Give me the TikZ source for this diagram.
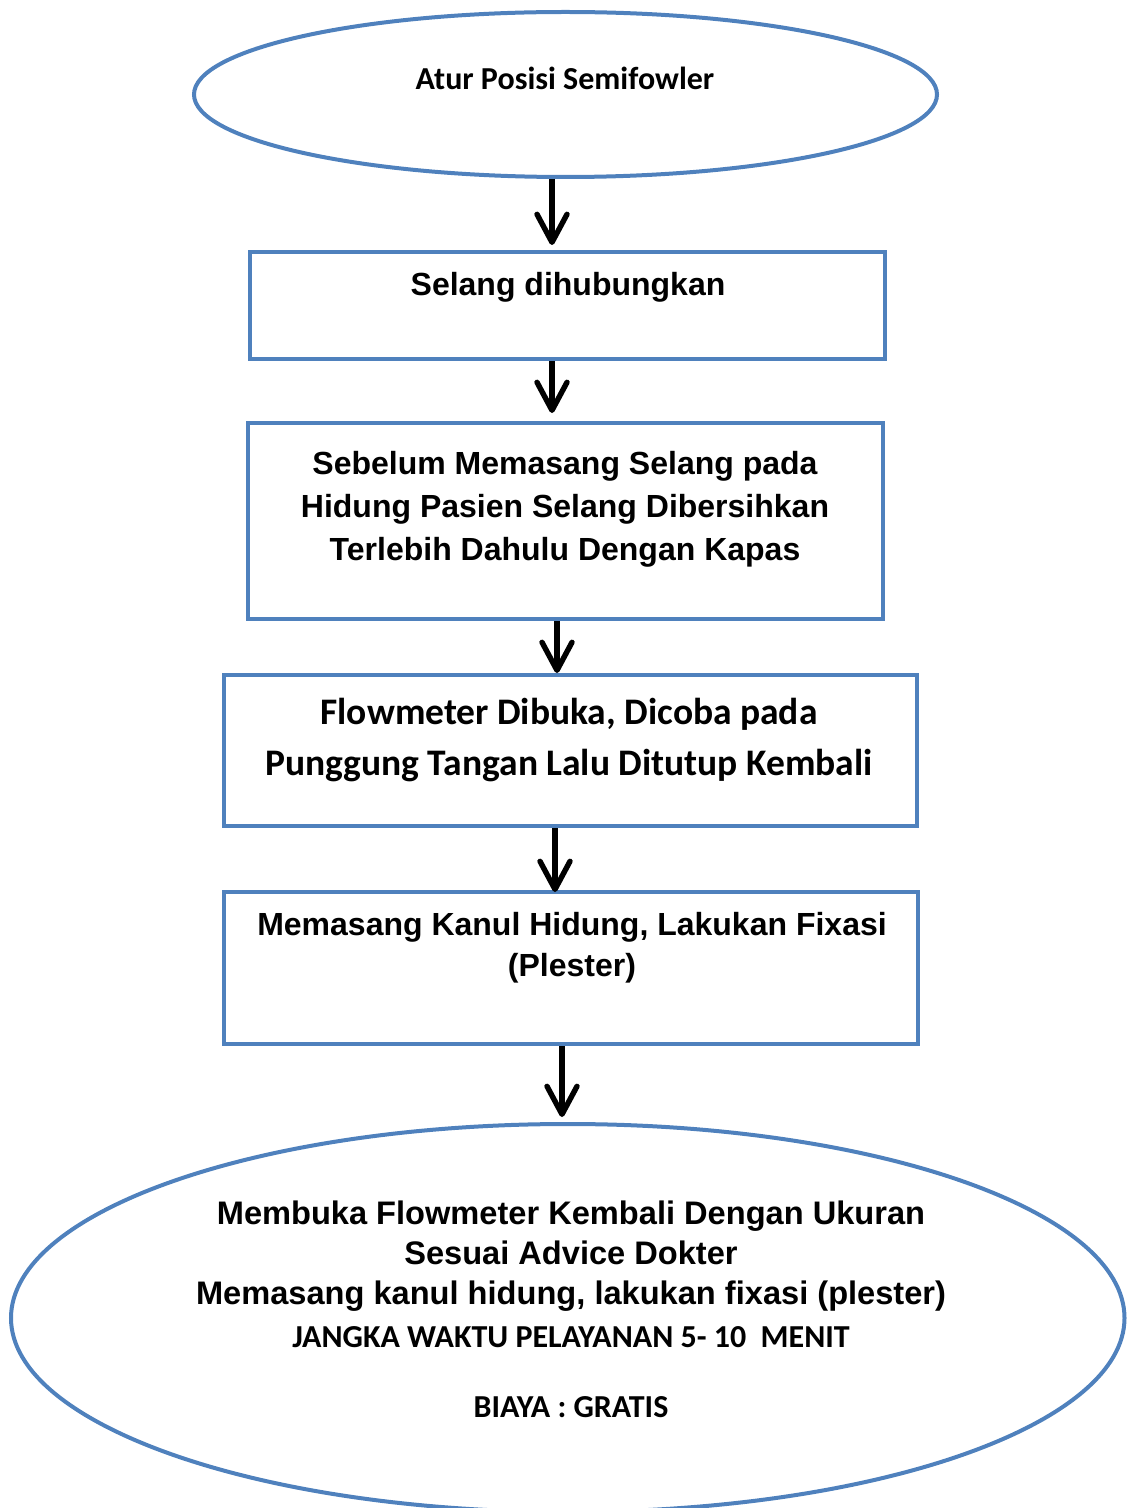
\documentclass[tikz,border=0pt]{standalone}
\usepackage{fontspec}
\setmainfont{Liberation Sans}
\newfontfamily\calibri{Carlito}
\usetikzlibrary{shapes.geometric,arrows.meta,positioning}
\definecolor{stepblue}{HTML}{4F81BD}
\tikzset{
  stepbox/.style={draw=stepblue, line width=2pt, rectangle, inner sep=0pt},
  stepoval/.style={draw=stepblue, line width=2pt, ellipse, inner sep=0pt},
  steptext/.style={align=center, inner sep=0pt, font=\bfseries\fontsize{16}{21.5}\selectfont},
  calibritext/.style={align=center, inner sep=0pt, font=\calibri\bfseries\fontsize{16}{20}\selectfont},
  flowarrow/.style={line width=2.7pt, -{Straight Barb[length=14pt,width=15pt,round]}},
}
\begin{document}
\begin{tikzpicture}[x=0.5pt,y=-0.5pt]
    \useasboundingbox (0,0) rectangle (1127,1508);
    % Shapes of the flow
    \node[stepoval, minimum width=371.5pt, minimum height=82.5pt] (atur) at (565.5,94.5) {};
    \node[stepbox, minimum width=317.5pt, minimum height=53.5pt] (selang) at (567.5,305.5) {};
    \node[stepbox, minimum width=317.5pt, minimum height=98pt] (bersih) at (565.5,521) {};
    \node[stepbox, minimum width=346.5pt, minimum height=75.5pt] (flow) at (570.5,750.5) {};
    \node[stepbox, minimum width=347pt, minimum height=76pt] (kanul) at (571,968) {};
    \node[stepoval, minimum width=556.75pt, minimum height=194pt] (buka) at (567.75,1318) {};
    % Texts
    \node[calibritext] (taur) at (565,78) {Atur Posisi Semifowler};
    \node[steptext] (tselang) at (568,287) {Selang dihubungkan};
    \node[steptext] (tbersih) at (565,509) {Sebelum Memasang Selang pada\\Hidung Pasien Selang Dibersihkan\\Terlebih Dahulu Dengan Kapas};
    \node[calibritext, font=\calibri\bfseries\fontsize{18.75}{25.5}\selectfont] (tflow) at (569,740.5) {Flowmeter Dibuka, Dicoba pada\\Punggung Tangan Lalu Ditutup Kembali};
    \node[steptext, font=\bfseries\fontsize{16}{20.5}\selectfont] (tkanul) at (572,947.5) {Memasang Kanul Hidung, Lakukan Fixasi\\(Plester)};
    \node[steptext, font=\bfseries\fontsize{16.3}{20}\selectfont] (tbuka) at (571,1256) {Membuka Flowmeter Kembali Dengan Ukuran\\Sesuai Advice Dokter\\Memasang kanul hidung, lakukan fixasi (plester)};
    \node[calibritext, font=\calibri\bfseries\fontsize{16}{17.5}\selectfont] (tbiaya) at (571,1372) {JANGKA WAKTU PELAYANAN 5- 10~ MENIT\\[17.5pt]BIAYA : GRATIS};
    % Arrows
    \draw[flowarrow] (atur.south -| 552,0) -- (552,245);
    \draw[flowarrow] (selang.south -| 552,0) -- (552,413);
    \draw[flowarrow] (bersih.south -| 557,0) -- (557,673);
    \draw[flowarrow] (flow.south -| 555,0) -- (555,892);
    \draw[flowarrow] (kanul.south -| 562,0) -- (562,1117);
\end{tikzpicture}
\end{document}
